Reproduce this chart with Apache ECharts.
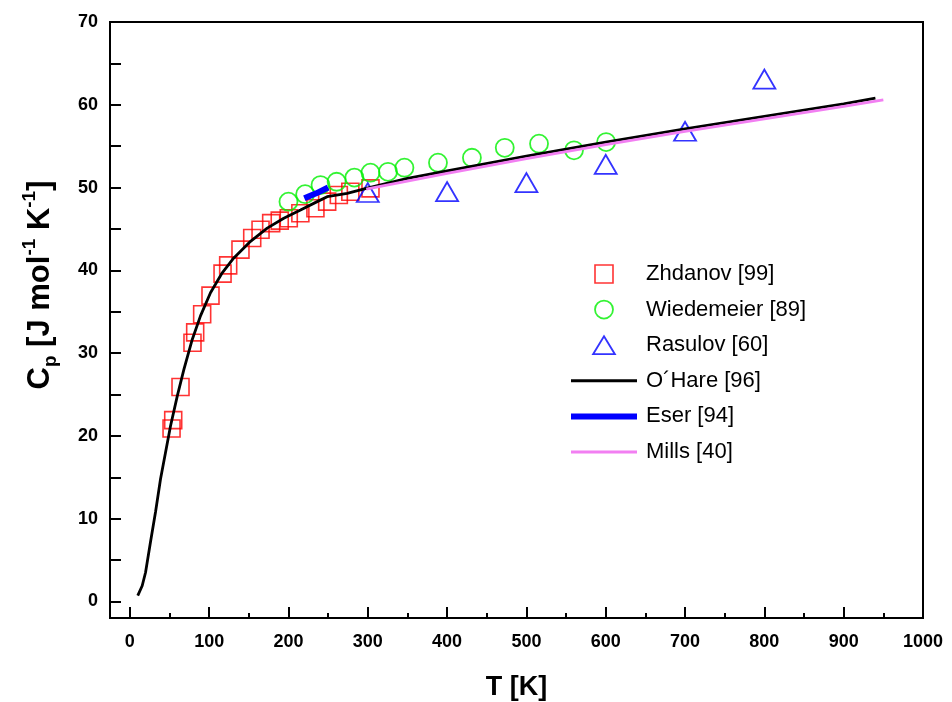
<!DOCTYPE html>
<html><head><meta charset="utf-8">
<script src="https://cdn.jsdelivr.net/npm/echarts@6/dist/echarts.min.js"></script>
<style>html,body{margin:0;padding:0;background:#fff}#c{width:952px;height:702px}</style>
</head><body><div id="c"></div>
<script>
// ---- tick / label values ----
const xTickValues = [0,100,200,300,400,500,600,700,800,900,1000];
const xMinorTickValues = [50,150,250,350,450,550,650,750,850,950];
const yLabelValues = [0,10,20,30,40,50,60,70];
const yTickValues = [0,5,10,15,20,25,30,35,40,45,50,55,60,65,70];

// ---- series data ----
const zhdanovT  = [52.6,54.7,63.9,79,82.4,91.2,101.7,116.9,124,139.5,154.3,164.8,178.2,189,200.4,215,234,248.8,263.5,278,303.4];
const zhdanovCp = [20.9,21.9,25.9,31.25,32.5,34.7,36.95,39.6,40.6,42.5,43.9,44.9,45.7,46.0,46.3,46.9,47.5,48.3,49.1,49.5,49.9];

const wiedT  = [200,221,240.4,260.7,283.1,303.4,325.5,346.2,388.5,431.3,472.7,515.9,560,600.5];
const wiedCp = [48.3,49.2,50.3,50.7,51.2,51.8,51.9,52.4,53.0,53.6,54.8,55.3,54.5,55.5];

const rasulovT  = [300,400,500,600,700,800];
const rasulovCp = [49.4,49.5,50.6,52.8,56.8,63.1];

const ohareT  = [10,15.6,19.8,26.1,32.4,38.7,45,51.3,59.8,68.1,78.7,89.1,101.7,116.5,131.1,152.2,173.2,194.1,215.2,236.2,248.8,274,298,350,400,500,600,700,800,900,940];
const ohareCp = [0.7,1.9,3.5,7.2,10.8,14.8,18,21.2,24.8,28.0,31.65,34.5,37.3,39.7,41.5,43.5,45.1,46.3,47.3,48.3,48.9,49.3,49.9,51.1,52.0,53.8,55.5,57.1,58.6,60.1,60.8];

const eserT  = [220,235,250];
const eserCp = [48.7,49.3,50.0];

const millsT  = [298,400,500,600,700,800,900,950];
const millsCp = [49.8,51.7,53.5,55.2,56.8,58.3,59.8,60.6];

const names = ['Zhdanov [99]','Wiedemeier [89]','Rasulov [60]','O\u00B4Hare [96]','Eser [94]','Mills [40]'];

function zip(a,b){return a.map((v,i)=>[v,b[i]]);}

const F = '"Liberation Sans", Arial, Helvetica, sans-serif';
const RED='#ff0000', GREEN='#00f000', BLUE='#0000ff', PINK='#f27ff2';
const gridBox = {left:110, right:29, top:22, bottom:84, outerBoundsMode:'none', containLabel:false};

const chart = echarts.init(document.getElementById('c'));
chart.setOption({
  animation:false,
  backgroundColor:'#fff',
  grid:[Object.assign({show:true,borderColor:'#000',borderWidth:2,backgroundColor:'transparent'},gridBox),
        Object.assign({},gridBox)],
  xAxis:[{
    type:'value', gridIndex:0, min:-25, max:1000,
    axisLine:{onZero:false,lineStyle:{color:'#000',width:2}},
    axisTick:{inside:true,length:11,lineStyle:{color:'#000',width:2},customValues:xTickValues},
    axisLabel:{customValues:xTickValues,margin:15,color:'#000',fontFamily:F,fontWeight:'bold',fontSize:18,
               formatter:function(v){return String(v);}},
    splitLine:{show:false},
    name:'T [K]', nameLocation:'middle', nameGap:56,
    nameTextStyle:{fontFamily:F,fontWeight:'bold',fontSize:27,color:'#000'}
  },{
    type:'value', gridIndex:1, min:-25, max:1000,
    axisLine:{show:false,onZero:false},
    axisTick:{inside:true,length:5,lineStyle:{color:'#000',width:2},customValues:xMinorTickValues},
    axisLabel:{show:false}, splitLine:{show:false}
  }],
  yAxis:[{
    type:'value', gridIndex:0, min:-2, max:70,
    axisLine:{onZero:false,lineStyle:{color:'#000',width:2}},
    axisTick:{inside:true,length:11,lineStyle:{color:'#000',width:2},customValues:yTickValues},
    axisLabel:{customValues:yLabelValues,margin:12,color:'#000',fontFamily:F,fontWeight:'bold',fontSize:18},
    splitLine:{show:false},
    name:'{a|C}{s|p}{a| [J mol}{u|-1}{a| K}{u|-1}{a|]}',
    nameLocation:'middle', nameRotate:90, nameGap:50,
    nameTextStyle:{padding:[0,0,0,70],rich:{
      a:{fontFamily:F,fontWeight:'bold',fontSize:31,color:'#000',lineHeight:40},
      s:{fontFamily:F,fontWeight:'bold',fontSize:19,color:'#000',lineHeight:24,verticalAlign:'bottom'},
      u:{fontFamily:F,fontWeight:'bold',fontSize:19,color:'#000',lineHeight:26,verticalAlign:'top'}
    }}
  },{
    type:'value', gridIndex:1, min:-2, max:70, show:false
  }],
  legend:{
    orient:'vertical', left:566, top:258, itemWidth:66, itemHeight:18, itemGap:13.6,
    symbolKeepAspect:true,
    textStyle:{fontFamily:F,fontSize:22,color:'#000',padding:[0,0,0,4]},
    data:[
      {name:names[0],icon:'path://M0,0L17,0L17,17L0,17Z',itemStyle:{color:'rgba(0,0,0,0)',borderColor:RED,borderWidth:1.6}},
      {name:names[1],icon:'circle',itemStyle:{color:'rgba(0,0,0,0)',borderColor:GREEN,borderWidth:1.8}},
      {name:names[2],icon:'path://M11.5,0L23,19L0,19Z',itemStyle:{color:'rgba(0,0,0,0)',borderColor:BLUE,borderWidth:1.8}},
      {name:names[3],icon:'path://M0,0L66,0L66,3L0,3Z',itemStyle:{color:'#000',borderWidth:0}},
      {name:names[4],icon:'path://M0,0L66,0L66,6L0,6Z',itemStyle:{color:BLUE,borderWidth:0}},
      {name:names[5],icon:'path://M0,0L66,0L66,3L0,3Z',itemStyle:{color:PINK,borderWidth:0}}
    ]
  },
  series:[
    {name:names[0],type:'scatter',xAxisIndex:0,yAxisIndex:0,symbol:'rect',symbolSize:17,
     itemStyle:{color:'rgba(0,0,0,0)',borderColor:RED,borderWidth:1.6},data:zip(zhdanovT,zhdanovCp)},
    {name:names[1],type:'scatter',xAxisIndex:0,yAxisIndex:0,symbol:'circle',symbolSize:18,
     itemStyle:{color:'rgba(0,0,0,0)',borderColor:GREEN,borderWidth:1.8},data:zip(wiedT,wiedCp)},
    {name:names[2],type:'scatter',xAxisIndex:0,yAxisIndex:0,symbol:'triangle',symbolSize:[22,19],
     itemStyle:{color:'rgba(0,0,0,0)',borderColor:BLUE,borderWidth:1.8},data:zip(rasulovT,rasulovCp)},
    {name:names[3],type:'line',xAxisIndex:0,yAxisIndex:0,showSymbol:false,symbol:'none',
     itemStyle:{color:'#000'},lineStyle:{color:'#000',width:2.8},data:zip(ohareT,ohareCp)},
    {name:names[4],type:'line',xAxisIndex:0,yAxisIndex:0,showSymbol:false,symbol:'none',
     itemStyle:{color:BLUE},lineStyle:{color:BLUE,width:6},data:zip(eserT,eserCp)},
    {name:names[5],type:'line',xAxisIndex:0,yAxisIndex:0,showSymbol:false,symbol:'none',
     itemStyle:{color:PINK},lineStyle:{color:PINK,width:2.8},data:zip(millsT,millsCp)}
  ]
});
</script></body></html>
